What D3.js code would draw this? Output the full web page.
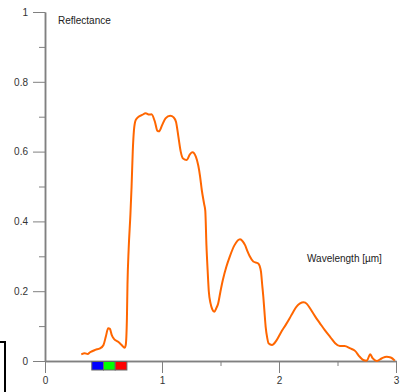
<html>
<head>
<style type="text/css">
  body { margin: 0; background: #fff; }
  text { font-family: "Liberation Sans", Arial, sans-serif; }
  .axis path, .axis line { stroke: #808080; }
  .axis text { fill: #333; font-size: 10px; }
</style>
<script src="https://d3js.org/d3.v7.min.js"></script>
</head>
<body>
<script type="text/javascript">
// wavelength (um) and reflectance
var wavelength = [0.31,0.34,0.365,0.385,0.43,0.47,0.50,0.52,0.54,0.555,0.57,0.59,0.625,0.655,0.68,0.69,
  0.70,0.705,0.715,0.73,0.74,0.75,0.76,0.775,0.80,0.83,0.86,0.89,0.91,0.94,0.96,0.975,1.0,1.03,1.07,1.10,
  1.12,1.14,1.16,1.18,1.21,1.24,1.26,1.29,1.31,1.325,1.34,1.36,1.37,1.38,1.39,1.40,1.415,1.43,1.447,1.465,
  1.48,1.50,1.52,1.55,1.58,1.62,1.667,1.69,1.71,1.73,1.75,1.78,1.82,1.835,1.846,1.856,1.866,1.876,1.886,
  1.90,1.91,1.94,1.98,2.02,2.06,2.09,2.12,2.15,2.18,2.21,2.24,2.265,2.31,2.35,2.39,2.44,2.48,2.52,2.56,
  2.61,2.65,2.69,2.72,2.75,2.78,2.80,2.835,2.88,2.92,2.955,2.99];
var reflectance = [0.019,0.022,0.020,0.025,0.032,0.036,0.046,0.070,0.094,0.092,0.075,0.063,0.055,0.046,0.038,0.046,
  0.12,0.22,0.32,0.42,0.50,0.60,0.66,0.69,0.70,0.705,0.71,0.706,0.707,0.685,0.66,0.658,0.675,0.695,0.703,0.698,
  0.685,0.643,0.60,0.58,0.576,0.593,0.598,0.585,0.56,0.53,0.49,0.45,0.43,0.33,0.26,0.20,0.165,0.148,0.141,0.152,
  0.165,0.20,0.232,0.27,0.30,0.332,0.349,0.343,0.332,0.315,0.30,0.285,0.28,0.272,0.256,0.22,0.184,0.14,0.098,
  0.065,0.051,0.046,0.060,0.084,0.105,0.122,0.14,0.156,0.165,0.168,0.163,0.151,0.127,0.108,0.089,0.068,0.051,0.043,0.043,
  0.036,0.029,0.012,0.003,0.001,0.019,0.008,0.0,0.008,0.012,0.010,0.001];

var xTicks = [0, 1, 2, 3];
var xMinor = [0.5, 1.5, 2.5];
var yTicks = [0, 0.2, 0.4, 0.6, 0.8, 1];
var yMinor = [0.1, 0.3, 0.5, 0.7, 0.9];

// visible band: blue, green, red
var bandStart = [0.4, 0.5, 0.6];
var bandEnd = [0.5, 0.6, 0.7];
var bandColor = ["#0000ff", "#00ff00", "#ff0000"];

var width = 401, height = 392;

var x = d3.scaleLinear().domain([0, 3]).range([45, 396]);
var y = d3.scaleLinear().domain([0, 1]).range([361, 12]);

var svg = d3.select('body').append('svg')
  .attr('width', width)
  .attr('height', height);

// minor ticks
svg.append('g')
  .attr('class', 'axis')
  .attr('transform', 'translate(45,0)')
  .call(d3.axisLeft(y).tickValues(yMinor).tickSize(6).tickSizeOuter(0).tickFormat(''));
svg.append('g')
  .attr('class', 'axis')
  .attr('transform', 'translate(0,361)')
  .call(d3.axisBottom(x).tickValues(xMinor).tickSize(5).tickSizeOuter(0).tickFormat(''));

// major axes
svg.append('g')
  .attr('class', 'axis')
  .attr('transform', 'translate(45,0)')
  .call(d3.axisLeft(y).tickValues(yTicks).tickSize(12).tickSizeOuter(0).tickPadding(5).tickFormat(d3.format('~g')));
svg.append('g')
  .attr('class', 'axis')
  .attr('transform', 'translate(0,361)')
  .call(d3.axisBottom(x).tickValues(xTicks).tickSize(12).tickSizeOuter(0).tickPadding(4).tickFormat(d3.format('~g')));

svg.selectAll('.axis .domain').attr('stroke-width', 1.5);

// colour bar under the axis
svg.selectAll('rect.band')
  .data(bandStart)
  .enter()
  .append('rect')
    .attr('class', 'band')
    .attr('x', function(d) { return x(d); })
    .attr('y', 361.5)
    .attr('width', function(d, i) { return x(bandEnd[i]) - x(d); })
    .attr('height', 8.5)
    .attr('fill', function(d, i) { return bandColor[i]; })
    .attr('stroke', '#666')
    .attr('stroke-width', 1);

var line = d3.line()
  .x(function(d) { return x(d[0]); })
  .y(function(d) { return y(d[1]); })
  .curve(d3.curveMonotoneX);

svg.append('path')
  .datum(d3.zip(wavelength, reflectance))
  .attr('d', line)
  .attr('fill', 'none')
  .attr('stroke', '#ff6600')
  .attr('stroke-width', 2)
  .attr('stroke-linejoin', 'round');

svg.append('text')
  .text('Reflectance')
  .attr('x', 58)
  .attr('y', 24)
  .attr('font-size', 10)
  .attr('fill', '#222');

svg.append('text')
  .text('Wavelength [\u00b5m]')
  .attr('x', 307)
  .attr('y', 262)
  .attr('font-size', 10)
  .attr('fill', '#222');

// clipped box edge at bottom left
svg.append('path')
  .attr('d', 'M0,342H5V392')
  .attr('fill', 'none')
  .attr('stroke', '#000')
  .attr('stroke-width', 2);
</script>
</body>
</html>
